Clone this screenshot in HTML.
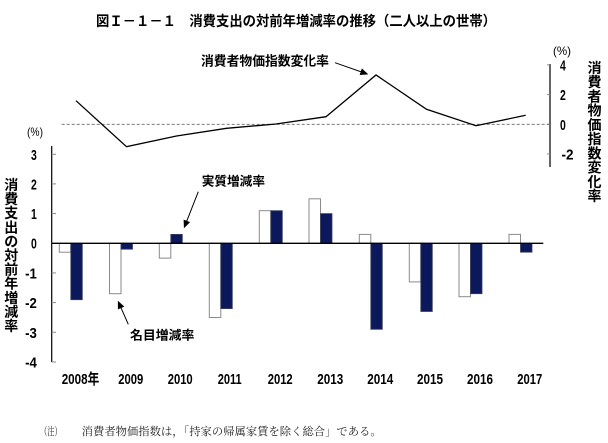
<!DOCTYPE html>
<html><head><meta charset="utf-8">
<style>
html,body{margin:0;padding:0;background:#fff;}
svg{display:block;}
.b{font-family:"Liberation Sans","Noto Sans CJK JP",sans-serif;font-weight:bold;fill:#000;}
.j{font-family:"Noto Sans CJK JP","Liberation Sans",sans-serif;font-weight:bold;fill:#000;}
.s{font-family:"Liberation Serif","Noto Serif CJK SC",serif;fill:#222;}
.p{font-family:"Liberation Sans",sans-serif;font-weight:normal;fill:#000;}
</style></head>
<body>
<svg width="608" height="443" viewBox="0 0 608 443" xmlns="http://www.w3.org/2000/svg">
<defs>
<marker id="ah" markerWidth="8" markerHeight="8" refX="7" refY="4" orient="auto" markerUnits="userSpaceOnUse">
<path d="M0,0.5 L8,4 L0,7.5 Z" fill="#000"/>
</marker>
</defs>

<!-- Title -->
<text class="j" x="96" y="26" font-size="14" textLength="400" lengthAdjust="spacingAndGlyphs">図Ｉ－１－１　消費支出の対前年増減率の推移（二人以上の世帯）</text>

<!-- Right axis (CPI) -->
<line x1="550" y1="64" x2="550" y2="167" stroke="#000" stroke-width="1.2"/>
<g stroke="#888" stroke-width="1">
<line x1="547" y1="64.9" x2="550" y2="64.9"/>
<line x1="547" y1="94.6" x2="550" y2="94.6"/>
<line x1="547" y1="124.3" x2="550" y2="124.3"/>
<line x1="547" y1="154" x2="550" y2="154"/>
</g>
<g class="b" font-size="15">
<text x="560" y="70.4" textLength="5.8" lengthAdjust="spacingAndGlyphs">4</text>
<text x="560" y="100.1" textLength="5.8" lengthAdjust="spacingAndGlyphs">2</text>
<text x="560" y="129.8" textLength="5.8" lengthAdjust="spacingAndGlyphs">0</text>
<text x="561.5" y="159.5" textLength="12" lengthAdjust="spacingAndGlyphs">-2</text>
</g>
<text class="p" x="553" y="54.8" font-size="12" textLength="18" lengthAdjust="spacingAndGlyphs">(%)</text>

<!-- Right vertical label -->
<g class="j" font-size="14" text-anchor="middle">
<text x="594.5" y="72.8">消</text>
<text x="594.5" y="87.1">費</text>
<text x="594.5" y="101.3">者</text>
<text x="594.5" y="115.6">物</text>
<text x="594.5" y="129.8">価</text>
<text x="594.5" y="144.1">指</text>
<text x="594.5" y="158.3">数</text>
<text x="594.5" y="172.6">変</text>
<text x="594.5" y="186.8">化</text>
<text x="594.5" y="201.1">率</text>
</g>

<!-- dashed zero line CPI -->
<line x1="61.7" y1="124.3" x2="550" y2="124.3" stroke="#666" stroke-width="0.9" stroke-dasharray="3,2"/>

<!-- CPI line -->
<polyline fill="none" stroke="#000" stroke-width="1.3" stroke-linejoin="miter"
points="76,100.7 126.5,146.7 176.5,136 226.5,128.3 276,124 326,116.7 376,75 426.5,109.3 476,125.7 525.7,115.3"/>

<!-- CPI label + arrow -->
<text class="j" x="201" y="65.5" font-size="13" textLength="128" lengthAdjust="spacingAndGlyphs">消費者物価指数変化率</text>
<line x1="335" y1="62.7" x2="367.3" y2="74" stroke="#000" stroke-width="1" marker-end="url(#ah)"/>

<!-- Left axis -->
<line x1="51.7" y1="146" x2="51.7" y2="362" stroke="#000" stroke-width="1.2"/>
<g stroke="#888" stroke-width="1">
<line x1="51.7" y1="154.3" x2="56" y2="154.3"/>
<line x1="51.7" y1="183.9" x2="56" y2="183.9"/>
<line x1="51.7" y1="213.6" x2="56" y2="213.6"/>
<line x1="51.7" y1="272.9" x2="56" y2="272.9"/>
<line x1="51.7" y1="302.6" x2="56" y2="302.6"/>
<line x1="51.7" y1="332.3" x2="56" y2="332.3"/>
<line x1="51.7" y1="362" x2="56" y2="362"/>
</g>
<g class="b" font-size="15" text-anchor="end">
<text x="36.8" y="159.8" textLength="5.8" lengthAdjust="spacingAndGlyphs">3</text>
<text x="36.8" y="189.4" textLength="5.8" lengthAdjust="spacingAndGlyphs">2</text>
<text x="36.8" y="219.1" textLength="5.8" lengthAdjust="spacingAndGlyphs">1</text>
<text x="36.8" y="248.6" textLength="5.8" lengthAdjust="spacingAndGlyphs">0</text>
<text x="36.8" y="278.4" textLength="11.7" lengthAdjust="spacingAndGlyphs">-1</text>
<text x="36.8" y="308.1" textLength="11.7" lengthAdjust="spacingAndGlyphs">-2</text>
<text x="36.8" y="337.8" textLength="11.7" lengthAdjust="spacingAndGlyphs">-3</text>
<text x="36.8" y="367.5" textLength="11.7" lengthAdjust="spacingAndGlyphs">-4</text>
</g>
<text class="p" x="27" y="136" font-size="12" textLength="16" lengthAdjust="spacingAndGlyphs">(%)</text>

<!-- Left vertical label -->
<g class="j" font-size="14" text-anchor="middle">
<text x="11.3" y="190">消</text>
<text x="11.3" y="204.1">費</text>
<text x="11.3" y="218.2">支</text>
<text x="11.3" y="232.3">出</text>
<text x="11.3" y="246.4">の</text>
<text x="11.3" y="260.5">対</text>
<text x="11.3" y="274.6">前</text>
<text x="11.3" y="288.7">年</text>
<text x="11.3" y="302.8">増</text>
<text x="11.3" y="316.9">減</text>
<text x="11.3" y="331">率</text>
</g>

<!-- Bars: nominal (white) -->
<g fill="#fff" stroke="#8a8a8a" stroke-width="1">
<rect x="59.3" y="243.3" width="11.5" height="8.9"/>
<rect x="109.5" y="243.3" width="11.5" height="50.4"/>
<rect x="159.3" y="243.3" width="11.5" height="14.8"/>
<rect x="209.3" y="243.3" width="11.5" height="74.2"/>
<rect x="259.3" y="210.7" width="11.5" height="32.6"/>
<rect x="309" y="198.8" width="11.5" height="44.5"/>
<rect x="359.3" y="234.4" width="11.5" height="8.9"/>
<rect x="409.3" y="243.3" width="11.5" height="38.6"/>
<rect x="459" y="243.3" width="11.5" height="53.4"/>
<rect x="509" y="234.4" width="11.5" height="8.9"/>
</g>
<!-- Bars: real (navy) -->
<g fill="#0c185c" stroke="#3a3f5c" stroke-width="0.8">
<rect x="70.8" y="243.3" width="11.5" height="56.4"/>
<rect x="121" y="243.3" width="11.5" height="5.9"/>
<rect x="170.8" y="234.4" width="11.5" height="8.9"/>
<rect x="220.8" y="243.3" width="11.5" height="65.3"/>
<rect x="270.8" y="210.7" width="11.5" height="32.6"/>
<rect x="320.5" y="213.6" width="11.5" height="29.7"/>
<rect x="370.8" y="243.3" width="11.5" height="86"/>
<rect x="420.8" y="243.3" width="11.5" height="68.2"/>
<rect x="470.5" y="243.3" width="11.5" height="50.4"/>
<rect x="520.5" y="243.3" width="11.5" height="8.9"/>
</g>

<!-- zero line bars -->
<line x1="51.7" y1="243.3" x2="543.3" y2="243.3" stroke="#000" stroke-width="1.3"/>

<!-- annotations -->
<text class="j" x="201.7" y="185.5" font-size="12.7" textLength="63.3" lengthAdjust="spacingAndGlyphs">実質増減率</text>
<line x1="198.3" y1="191.7" x2="184.3" y2="227.3" stroke="#000" stroke-width="1" marker-end="url(#ah)"/>
<text class="j" x="130" y="339.5" font-size="12.7" textLength="64.3" lengthAdjust="spacingAndGlyphs">名目増減率</text>
<line x1="128.3" y1="324.3" x2="118.3" y2="301.7" stroke="#000" stroke-width="1" marker-end="url(#ah)"/>

<!-- year labels -->
<g class="b" font-size="15" text-anchor="middle">
<text x="80.5" y="384" textLength="37.6" lengthAdjust="spacingAndGlyphs">2008年</text>
<text x="130.8" y="384" textLength="25" lengthAdjust="spacingAndGlyphs">2009</text>
<text x="180.2" y="384" textLength="25" lengthAdjust="spacingAndGlyphs">2010</text>
<text x="229.7" y="384" textLength="24" lengthAdjust="spacingAndGlyphs">2011</text>
<text x="280.2" y="384" textLength="25" lengthAdjust="spacingAndGlyphs">2012</text>
<text x="330.3" y="384" textLength="26" lengthAdjust="spacingAndGlyphs">2013</text>
<text x="380.3" y="384" textLength="26" lengthAdjust="spacingAndGlyphs">2014</text>
<text x="430" y="384" textLength="26" lengthAdjust="spacingAndGlyphs">2015</text>
<text x="480" y="384" textLength="26" lengthAdjust="spacingAndGlyphs">2016</text>
<text x="529.8" y="384" textLength="25" lengthAdjust="spacingAndGlyphs">2017</text>
</g>

<!-- note -->
<text class="s" x="40" y="435" font-size="11" textLength="21.7" lengthAdjust="spacingAndGlyphs">（注）</text>
<text class="s" x="81.7" y="435" font-size="11" textLength="300" lengthAdjust="spacingAndGlyphs">消費者物価指数は，「持家の帰属家賃を除く総合」である。</text>
</svg>
</body></html>
